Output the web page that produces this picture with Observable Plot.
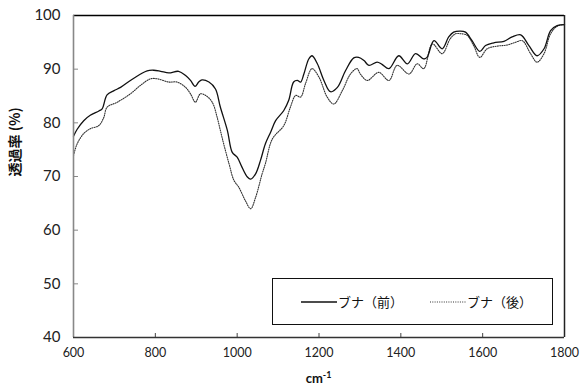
<!DOCTYPE html>
<html>
<head>
<meta charset="utf-8">
<script src="https://cdn.jsdelivr.net/npm/d3@7"></script>
<script src="https://cdn.jsdelivr.net/npm/@observablehq/plot@0.6"></script>
<style>
  body { margin: 0; background: #fff; }
  #chart { width: 581px; height: 389px; }
</style>
</head>
<body>
<div id="chart"></div>
<script>
// FT-IR transmittance spectra of beech (ブナ) before and after treatment
const seriesNames = ["ブナ（前）", "ブナ（後）"];

const wavenumberBefore = [600, 609, 625, 641, 662, 670, 682, 699, 715, 739, 764, 780, 796, 813, 833, 857, 874, 886, 897, 906, 914, 931, 947, 959, 976, 988, 1000, 1012, 1025, 1033, 1045, 1057, 1069, 1082, 1094, 1114, 1126, 1138, 1147, 1155, 1163, 1175, 1183, 1196, 1212, 1228, 1245, 1265, 1285, 1297, 1310, 1322, 1342, 1354, 1371, 1395, 1416, 1436, 1456, 1464, 1481, 1501, 1517, 1529, 1545, 1558, 1574, 1593, 1607, 1627, 1652, 1672, 1693, 1713, 1733, 1750, 1766, 1782, 1800];
const transmittanceBefore = [77.5, 78.8, 80.4, 81.4, 82.2, 82.6, 85.2, 86.0, 86.6, 87.9, 89.1, 89.7, 89.8, 89.6, 89.3, 89.6, 88.8, 87.9, 86.8, 87.6, 88.0, 87.6, 86.3, 82.9, 78.6, 74.5, 73.6, 71.7, 69.9, 69.5, 70.5, 73.0, 76.1, 78.3, 80.4, 82.3, 84.2, 87.6, 87.9, 87.6, 89.1, 91.9, 92.5, 91.0, 87.9, 85.8, 86.6, 89.75, 92.1, 92.2, 91.6, 90.7, 91.3, 90.9, 90.1, 92.5, 91.0, 92.9, 91.9, 92.2, 95.3, 93.8, 96.0, 96.9, 97.1, 96.9, 95.3, 93.3, 94.4, 94.9, 95.2, 96.0, 96.4, 94.4, 92.5, 93.8, 97.2, 98.1, 98.3];

const wavenumberAfter = [600, 609, 625, 641, 662, 674, 682, 707, 739, 764, 788, 805, 833, 853, 874, 886, 898, 910, 923, 939, 951, 963, 980, 992, 1004, 1020, 1033, 1045, 1061, 1069, 1086, 1114, 1130, 1143, 1155, 1167, 1183, 1200, 1220, 1236, 1257, 1277, 1293, 1301, 1318, 1346, 1371, 1391, 1420, 1440, 1456, 1477, 1501, 1521, 1534, 1546, 1562, 1578, 1593, 1611, 1636, 1660, 1680, 1697, 1717, 1733, 1750, 1766, 1782, 1800];
const transmittanceAfter = [73.9, 76.1, 78.0, 78.9, 79.5, 81.0, 82.9, 83.85, 85.4, 87.0, 88.2, 88.2, 87.6, 87.6, 86.6, 85.4, 83.85, 85.4, 85.1, 83.85, 81.05, 77.3, 72.4, 69.3, 68.0, 65.5, 64.0, 66.1, 70.5, 72.4, 77.0, 79.5, 82.9, 85.1, 84.8, 87.3, 90.1, 88.5, 84.8, 83.5, 86.0, 89.1, 90.1, 89.1, 87.9, 89.4, 87.9, 90.7, 89.1, 91.0, 90.1, 94.7, 92.9, 95.7, 96.6, 96.6, 96.3, 94.4, 92.2, 93.8, 94.3, 94.5, 95.0, 95.3, 92.9, 91.3, 92.9, 96.6, 98.0, 98.3];

const xTicks = [600, 800, 1000, 1200, 1400, 1600, 1800];
const yTicks = [40, 50, 60, 70, 80, 90, 100];
const xLabel = "cm";
const xLabelSup = "-1";
const yLabel = "透過率 (%)";

const before = wavenumberBefore.map((w, i) => ({series: seriesNames[0], w, t: transmittanceBefore[i]}));
const after = wavenumberAfter.map((w, i) => ({series: seriesNames[1], w, t: transmittanceAfter[i]}));

const latin = "Lato, 'Liberation Sans', sans-serif";
const cjk = "'Noto Sans CJK JP', 'Noto Sans', sans-serif";

const plot = Plot.plot({
  width: 581,
  height: 389,
  marginLeft: 73,
  marginRight: 17,
  marginTop: 15,
  marginBottom: 52,
  style: {fontFamily: latin, background: "#fff", color: "#222"},
  x: {domain: [600, 1800]},
  y: {domain: [40, 100]},
  marks: [
    Plot.axisX(xTicks, {tickSize: -4, tickPadding: 15, fontSize: 12.5, stroke: "#444", fill: "#222", label: null, tickFormat: d3.format("d")}),
    Plot.axisY(yTicks, {tickSize: -5, tickPadding: 18, fontSize: 15, stroke: "#888", fill: "#222", label: null, tickFormat: d3.format("d")}),
    Plot.line(after, {x: "w", y: "t", curve: "catmull-rom", stroke: "#333", strokeWidth: 1.1, strokeDasharray: "1,1.3"}),
    Plot.line(before, {x: "w", y: "t", curve: "catmull-rom", stroke: "#111", strokeWidth: 1.3}),
    Plot.ruleY([100], {stroke: "#000", strokeWidth: 1.3}),
    Plot.ruleX([1800], {stroke: "#222", strokeWidth: 1.5}),
    Plot.ruleX([600], {stroke: "#888", strokeWidth: 1.6}),
    Plot.ruleY([40], {stroke: "#333", strokeWidth: 1.6}),
    Plot.text([yLabel], {frameAnchor: "left", rotate: -90, dx: -58, fontWeight: "bold", fontSize: 14, fontFamily: cjk, fill: "#111"})
  ]
});

document.getElementById("chart").appendChild(plot);

const svg = d3.select(plot);
const xs = plot.scale("x");

// x-axis title with superscript
const xt = svg.append("text")
  .attr("x", (xs.apply(600) + xs.apply(1800)) / 2)
  .attr("y", 383)
  .attr("text-anchor", "middle")
  .attr("font-family", latin)
  .attr("font-weight", "bold")
  .attr("font-size", 13)
  .attr("fill", "#111");
xt.append("tspan").text(xLabel);
xt.append("tspan").attr("dy", -5).attr("font-size", 9).text(xLabelSup);

// legend box
const lg = svg.append("g")
  .attr("font-family", cjk)
  .attr("font-size", 13)
  .attr("text-anchor", "start")
  .attr("fill", "#111");
lg.append("rect")
  .attr("x", 272.5).attr("y", 278.5).attr("width", 280).attr("height", 46)
  .attr("fill", "#fff").attr("stroke", "#111").attr("stroke-width", 1);
lg.append("line").attr("x1", 301).attr("x2", 337).attr("y1", 302).attr("y2", 302)
  .attr("stroke", "#111").attr("stroke-width", 1.3);
lg.append("text").attr("x", 338).attr("y", 306.5).text(seriesNames[0]);
lg.append("line").attr("x1", 430).attr("x2", 466).attr("y1", 302).attr("y2", 302)
  .attr("stroke", "#333").attr("stroke-width", 1.1).attr("stroke-dasharray", "1,1.3");
lg.append("text").attr("x", 467).attr("y", 306.5).text(seriesNames[1]);
</script>
</body>
</html>
